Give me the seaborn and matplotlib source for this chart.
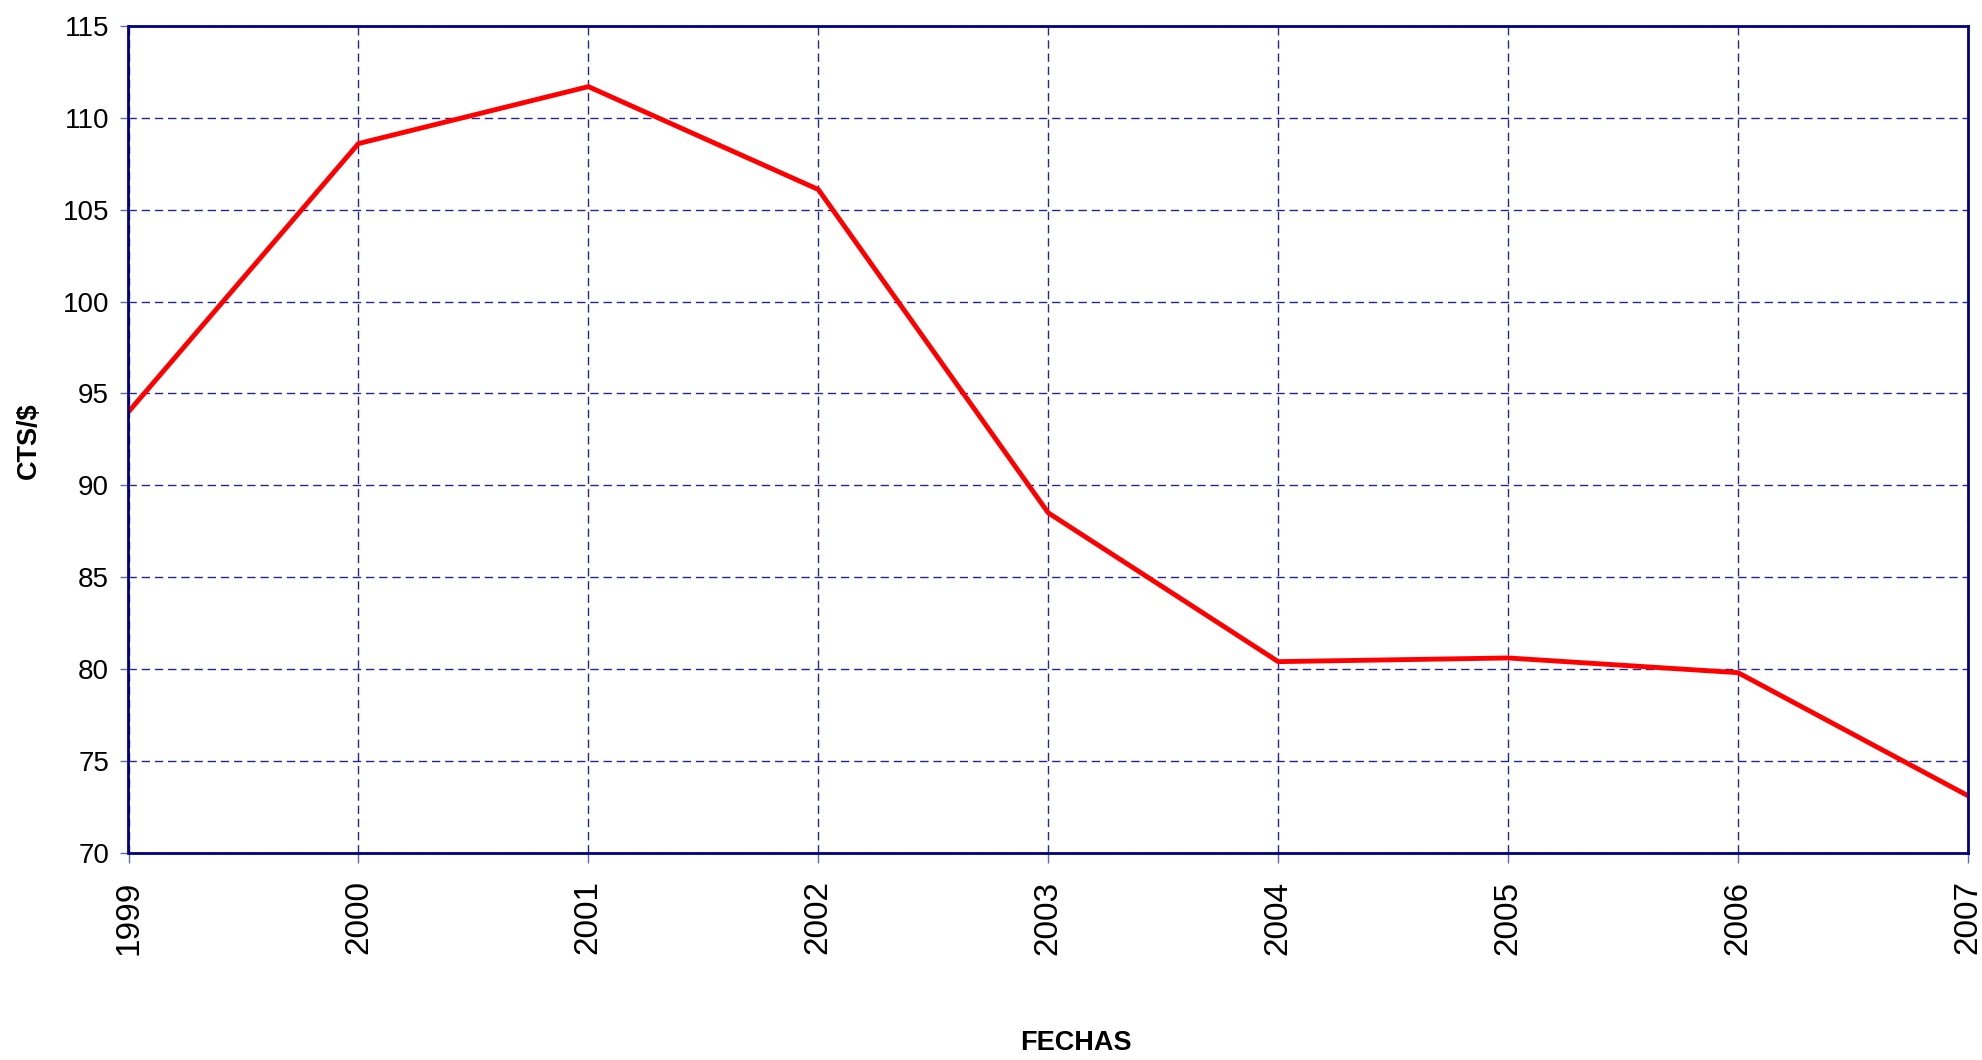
import pandas as pd
import seaborn as sns
import matplotlib.pyplot as plt

# Values
years = [1999, 2000, 2001, 2002, 2003, 2004, 2005, 2006, 2007]
cts = [94.0, 108.6, 111.7, 106.1, 88.5, 80.4, 80.6, 79.8, 73.1]
y_ticks = [70, 75, 80, 85, 90, 95, 100, 105, 110, 115]

df = pd.DataFrame({"year": years, "cts": cts})

sns.set_theme(style="white")
plt.rcParams['font.family'] = ['Liberation Sans', 'DejaVu Sans']

fig = plt.figure(figsize=(19.83, 10.6), dpi=100)
ax = fig.add_axes([128.5 / 1983, 1 - 852.7 / 1060, (1968 - 128.5) / 1983, (852.7 - 26) / 1060])

sns.lineplot(data=df, x="year", y="cts", ax=ax, color="#ff0000", linewidth=3.5)

ax.set_xlim(years[0], years[-1])
ax.set_ylim(y_ticks[0], y_ticks[-1])
ax.set_xticks(years)
ax.set_xticklabels([str(y) for y in years], rotation=90)
ax.set_yticks(y_ticks)

# dashed grid like the original spreadsheet chart
ax.grid(True, color="#000080", linestyle=(0, (6, 3.5)), linewidth=1.0, alpha=0.85)
ax.set_axisbelow(True)

for s in ax.spines.values():
    s.set_color("#000080")
    s.set_linewidth(2)

ax.tick_params(axis="x", which="major", length=7, width=1, color="#6666aa",
               labelsize=24, labelcolor="black", direction="out", pad=13, bottom=True)
ax.tick_params(axis="y", which="major", length=6, width=1, color="#6666aa",
               labelsize=20, labelcolor="black", direction="out", pad=8, left=True)

ax.set_xlabel("FECHAS", fontsize=19.5, fontweight="bold", color="black")
ax.set_ylabel("CTS/$", fontsize=19.5, fontweight="bold", color="black")
ax.xaxis.set_label_coords(0.515, -0.214)
ax.yaxis.set_label_coords(-0.047, 0.498)

fig.savefig("out.png", dpi=100, facecolor="white")
